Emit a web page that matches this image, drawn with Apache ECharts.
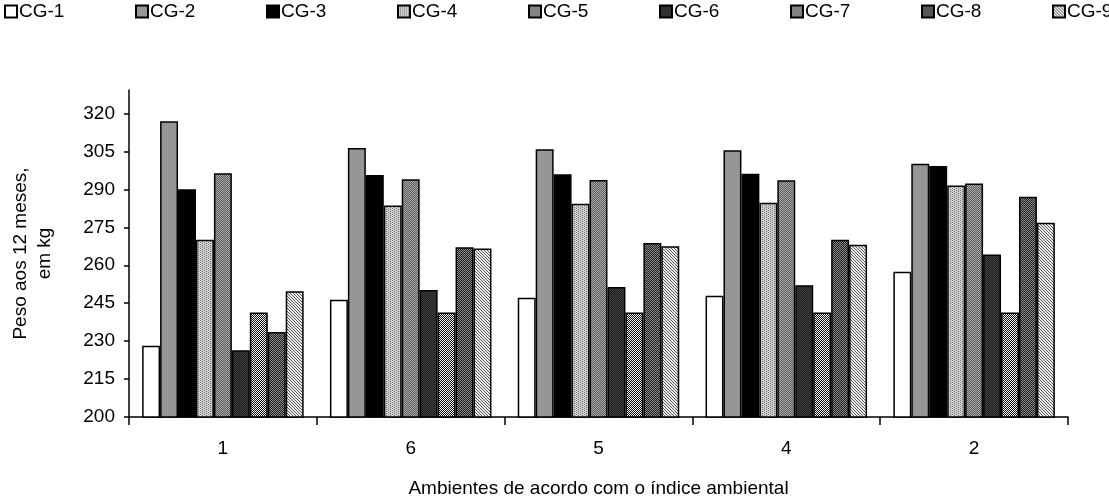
<!DOCTYPE html>
<html>
<head>
<meta charset="utf-8">
<script src="https://cdn.jsdelivr.net/npm/echarts@6/dist/echarts.min.js"></script>
<style>
  html, body { margin: 0; padding: 0; background: #ffffff; }
  #chart { width: 1109px; height: 503px; }
</style>
</head>
<body>
<div id="chart"></div>
<script>
// Environments ordered by environmental index
const categories = ['1', '6', '5', '4', '2'];

// Weight at 12 months (kg) per genetic group
const seriesNames = ['CG-1', 'CG-2', 'CG-3', 'CG-4', 'CG-5', 'CG-6', 'CG-7', 'CG-8', 'CG-9'];
const cg1 = [228.2, 246.4, 247.2, 247.9, 257.4];
const cg2 = [316.9, 306.4, 305.9, 305.5, 300.1];
const cg3 = [290.1, 295.7, 296.0, 296.2, 299.2];
const cg4 = [270.1, 283.6, 284.3, 284.7, 291.5];
const cg5 = [296.4, 294.0, 293.7, 293.6, 292.3];
const cg6 = [226.4, 250.2, 251.4, 252.1, 264.3];
const cg7 = [241.3, 241.3, 241.3, 241.3, 241.3];
const cg8 = [233.6, 267.1, 268.8, 270.1, 287.1];
const cg9 = [249.7, 266.6, 267.5, 268.1, 276.8];
const seriesValues = [cg1, cg2, cg3, cg4, cg5, cg6, cg7, cg8, cg9];

// Value axis: labelled ticks, plus a little headroom above the last one
const yTicks = [200, 215, 230, 245, 260, 275, 290, 305, 320];
const yMin = 200;
const yMax = 329.3;

const FONT = '"Liberation Sans", Arial, sans-serif';
const FS = 19;

// Small repeating bitmap fills in the style of monochrome print patterns
function makePattern(w, h, paint) {
  const c = document.createElement('canvas');
  c.width = w; c.height = h;
  const ctx = c.getContext('2d');
  for (let y = 0; y < h; y++) {
    for (let x = 0; x < w; x++) {
      ctx.fillStyle = paint(x, y);
      ctx.fillRect(x, y, 1, 1);
    }
  }
  return { image: c, repeat: 'repeat' };
}

const fills = [
  '#ffffff',                                                        // CG-1 white
  '#969696',                                                        // CG-2 solid grey
  '#000000',                                                        // CG-3 black
  makePattern(4, 4, (x, y) => ((x + 2 * y) % 4 === 0 ? '#7a7a7a' : (x + y) % 2 ? '#d8d8d8' : '#c4c4c4')),   // CG-4 light dots
  makePattern(2, 2, (x, y) => ((x + y) % 2 ? '#5e5e5e' : '#a8a8a8')),                                     // CG-5 mid dither
  makePattern(2, 2, (x, y) => ((x + y) % 2 ? '#222222' : '#3c3c3c')),                                     // CG-6 dark
  makePattern(2, 2, (x, y) => ((x + y) % 2 ? '#111111' : '#f4f4f4')),                                     // CG-7 fine check
  makePattern(2, 2, (x, y) => ((x + y) % 2 ? '#1e1e1e' : '#8c8c8c')),                                     // CG-8 dark check
  makePattern(3, 3, (x, y) => ((x - y + 3) % 3 === 0 ? '#5a5a5a' : '#ececec'))                            // CG-9 hatch
];

// One legend entry per genetic group, laid out on a fixed step
const legendStep = 131;
const legends = seriesNames.map((name, i) => ({
  data: [name],
  left: 4 + i * legendStep,
  top: 2,
  padding: 0,
  itemWidth: 12,
  itemHeight: 12,
  icon: 'rect',
  selectedMode: false,
  textStyle: { fontFamily: FONT, fontSize: FS, color: '#000', padding: [0, 0, 0, -3] }
}));

const chart = echarts.init(document.getElementById('chart'), null, { renderer: 'canvas' });

chart.setOption({
  backgroundColor: '#ffffff',
  animation: false,
  legend: legends,
  grid: { left: 129, right: 41, top: 90, bottom: 79.5, containLabel: false },
  xAxis: {
    type: 'category',
    data: categories,
    boundaryGap: true,
    axisLine: { show: true, lineStyle: { color: '#000', width: 1.5 } },
    axisTick: { show: true, alignWithLabel: false, length: 8, lineStyle: { color: '#000', width: 1.5 } },
    axisLabel: { margin: 22, fontFamily: FONT, fontSize: FS, color: '#000' },
    splitLine: { show: false },
    name: 'Ambientes de acordo com o índice ambiental',
    nameLocation: 'middle',
    nameGap: 62,
    nameTextStyle: { fontFamily: FONT, fontSize: FS, color: '#000' }
  },
  yAxis: {
    type: 'value',
    min: yMin,
    max: yMax,
    axisLine: { show: true, lineStyle: { color: '#000', width: 1.5 } },
    axisTick: { show: true, length: 5, customValues: yTicks, lineStyle: { color: '#000', width: 1.5 } },
    axisLabel: { margin: 14, customValues: yTicks, fontFamily: FONT, fontSize: FS, color: '#000' },
    splitLine: { show: false },
    name: 'Peso aos 12 meses,\nem kg',
    nameLocation: 'middle',
    nameRotate: 90,
    nameGap: 72,
    nameTextStyle: { fontFamily: FONT, fontSize: FS, color: '#000', lineHeight: 24, align: 'center' }
  },
  series: seriesNames.map((name, i) => ({
    name: name,
    type: 'bar',
    data: seriesValues[i],
    barGap: '0%',
    barCategoryGap: '14%',
    itemStyle: { color: fills[i], borderColor: '#000', borderWidth: 1.5 },
    emphasis: { disabled: true }
  }))
});
</script>
</body>
</html>
